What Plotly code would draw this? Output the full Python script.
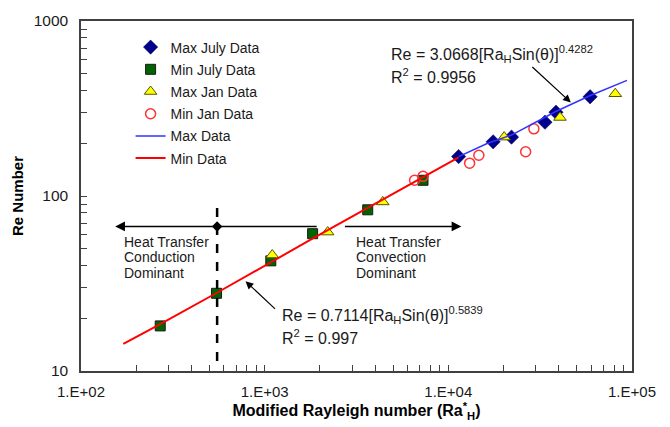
import plotly.graph_objects as go
import numpy as np

# ---- data ----
max_july_x = [11380, 17540, 22080, 33590, 38550, 59130]
max_july_y = [168, 204, 217, 264, 301, 369]

min_july_x = [270, 547, 1080, 1824, 3640, 7280]
min_july_y = [18.1, 27.8, 42.6, 60.9, 83.4, 123]

max_jan_x = [1100, 2203, 4394, 20140, 40550, 81100]
max_jan_y = [46, 62.2, 92.5, 217, 281, 384]

min_jan_x = [6550, 7280, 13060, 14660, 26360, 29230]
min_jan_y = [123, 129.5, 154, 171, 179, 242]

max_line_x = [11380, 16150, 22080, 38460, 58880, 93900]
max_line_y = [168, 199, 223, 304, 374, 458]

min_line_x = [170, 270, 550, 1080, 1820, 3640, 7280, 11380]
min_line_y = [14.3, 18.5, 28.0, 42.0, 57.0, 85.4, 128, 166]

# conduction / convection threshold
ra_crit = 551
divider_y = [11.4, 88]
arrow_level = 67.0
arrow_left_end = 153.5
arrow_right_end = 11780

x_major = [100, 1000, 10000, 100000]
x_major_text = ["1.E+02", "1.E+03", "1.E+04", "1.E+05"]
y_major = [10, 100, 1000]
y_major_text = ["10", "100", "1000"]

FONT = "Liberation Sans, Arial, sans-serif"
L, R, T, B = 81, 632, 17, 374


def log_ticks(majors, labels):
    vals, texts = [], []
    for i, m in enumerate(majors):
        vals.append(m)
        texts.append(labels[i])
        if i < len(majors) - 1:
            for k in range(2, 10):
                vals.append(m * k)
                texts.append("")
    return vals, texts


xv, xt = log_ticks(x_major, x_major_text)
yv, yt = log_ticks(y_major, y_major_text)

fig = go.Figure()

fig.add_trace(go.Scatter(x=max_july_x, y=max_july_y, mode="markers", name="Max July Data",
                         legendgroup="a",
                         marker=dict(symbol="diamond", size=11, color="#00008B",
                                     line=dict(color="#00004d", width=0.5))))
fig.add_trace(go.Scatter(x=min_july_x, y=min_july_y, mode="markers", name="Min July Data",
                         legendgroup="b",
                         marker=dict(symbol="square", size=10, color="#006400",
                                     line=dict(color="#1a1a1a", width=1))))
fig.add_trace(go.Scatter(x=max_jan_x, y=max_jan_y, mode="markers", name="Max Jan Data",
                         legendgroup="c",
                         marker=dict(symbol="triangle-up", size=11, color="#FFFF00",
                                     line=dict(color="#555500", width=1))))
fig.add_trace(go.Scatter(x=min_jan_x, y=min_jan_y, mode="markers", name="Min Jan Data",
                         legendgroup="d",
                         marker=dict(symbol="circle-open", size=10, color="#FF3333",
                                     line=dict(color="#FF3333", width=1.5))))
fig.add_trace(go.Scatter(x=max_line_x, y=max_line_y, mode="lines", name="Max Data",
                         legendgroup="e",
                         line=dict(color="#3333FF", width=1.5)))
fig.add_trace(go.Scatter(x=min_line_x, y=min_line_y, mode="lines", name="Min Data",
                         legendgroup="f",
                         line=dict(color="#FF0000", width=2)))

# dashed threshold line
fig.add_trace(go.Scatter(x=[ra_crit, ra_crit], y=divider_y, mode="lines", showlegend=False,
                         line=dict(color="black", width=2.5, dash="dash"), hoverinfo="skip"))
# diamond at threshold on the horizontal arrow line
fig.add_trace(go.Scatter(x=[ra_crit], y=[arrow_level], mode="markers", showlegend=False,
                         marker=dict(symbol="diamond", size=8, color="black"), hoverinfo="skip"))

lx = np.log10
annotations = [
    dict(x=lx(arrow_left_end), y=lx(arrow_level), xref="x", yref="y", ax=203, ay=0,
         showarrow=True, arrowhead=2, arrowsize=1.3, arrowwidth=1.5, arrowcolor="black", text=""),
    dict(x=lx(arrow_right_end), y=lx(arrow_level), xref="x", yref="y", ax=-118, ay=0,
         showarrow=True, arrowhead=2, arrowsize=1.3, arrowwidth=1.5, arrowcolor="black", text=""),
    dict(x=4.667, y=2.534, xref="x", yref="y", ax=-40, ay=-37, showarrow=True,
         arrowhead=2, arrowsize=1.3, arrowwidth=1.2, arrowcolor="black", text=""),
    dict(x=2.896, y=1.513, xref="x", yref="y", ax=31, ay=29, showarrow=True,
         arrowhead=2, arrowsize=1.3, arrowwidth=1.2, arrowcolor="black", text=""),
]


def pt(px, py):
    return (px - L) / (R - L), (B - py) / (B - T)


eq_font = dict(family=FONT, size=16, color="#1a1a1a")
for (px, py, text) in [
    (389, 51, "Re = 3.0668[Ra<sub>H</sub>Sin(θ)]<sup>0.4282</sup>"),
    (389, 73, "R<sup>2</sup> = 0.9956"),
    (280, 317, "Re = 0.7114[Ra<sub>H</sub>Sin(θ)]<sup>0.5839</sup>"),
    (280, 339, "R<sup>2</sup> = 0.997"),
]:
    xp, yp = pt(px, py)
    annotations.append(dict(x=xp, y=yp, xref="paper", yref="paper", text=text, showarrow=False,
                            xanchor="left", yanchor="middle", font=eq_font))

ht_font = dict(family=FONT, size=14, color="#1a1a1a")
for px in (122, 354):
    word = "Conduction" if px < 200 else "Convection"
    for py, text in ((242, "Heat Transfer"), (258, word), (274, "Dominant")):
        xp, yp = pt(px, py)
        annotations.append(dict(x=xp, y=yp, xref="paper", yref="paper", text=text,
                                showarrow=False, xanchor="left", yanchor="middle",
                                font=ht_font))

fig.update_layout(
    width=670, height=427,
    margin=dict(l=L, r=670 - R, t=T, b=427 - B),
    paper_bgcolor="white", plot_bgcolor="white",
    font=dict(family=FONT, size=15, color="#1a1a1a"),
    annotations=annotations,
    legend=dict(x=0.09, y=0.97, xanchor="left", yanchor="top", bgcolor="rgba(0,0,0,0)",
                font=dict(family=FONT, size=14, color="#1a1a1a"), tracegroupgap=1),
    xaxis=dict(type="log", range=[2, 5], tickvals=xv, ticktext=xt, ticks="inside", ticklen=6,
               tickcolor="#404040", showline=True, linecolor="#404040", linewidth=1.5,
               mirror=True, showgrid=False, zeroline=False, ticklabelstandoff=6,
               tickfont=dict(family=FONT, size=15, color="#1a1a1a"),
               title=dict(text="<b>Modified Rayleigh number (Ra<sup>*</sup><sub>H</sub>)</b>",
                          font=dict(family=FONT, size=16, color="black"), standoff=4)),
    yaxis=dict(type="log", range=[1, 3], tickvals=yv, ticktext=yt, ticks="inside", ticklen=6,
               tickcolor="#404040", showline=True, linecolor="#404040", linewidth=1.5,
               mirror=True, showgrid=False, zeroline=False, ticklabelstandoff=8,
               tickfont=dict(family=FONT, size=15.5, color="#1a1a1a"),
               title=dict(text="<b>Re Number</b>", font=dict(family=FONT, size=15, color="black"),
                          standoff=6)),
)

fig.write_html("out.html")
